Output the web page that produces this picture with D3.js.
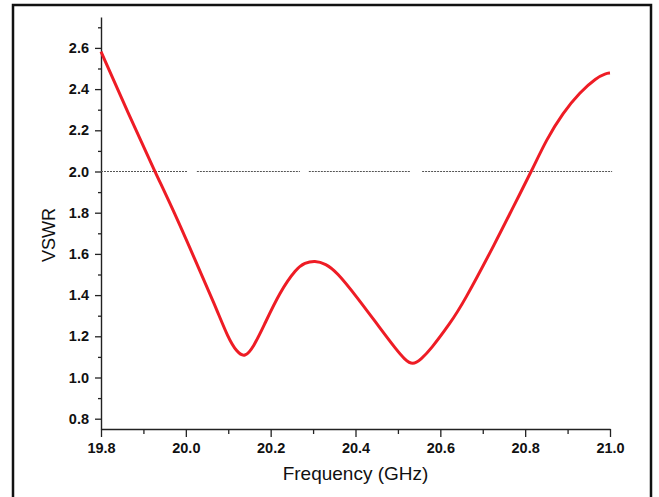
<!DOCTYPE html>
<html>
<head>
<meta charset="utf-8">
<script src="https://cdn.jsdelivr.net/npm/d3@7"></script>
<style>
  body { margin: 0; background: #fff; }
  svg { display: block; }
</style>
</head>
<body>
<div id="chart"></div>
<script>
// VSWR vs frequency
var freq = [19.8, 19.864, 19.927, 19.974, 20.022, 20.069, 20.10, 20.12, 20.139, 20.16, 20.183, 20.222, 20.261, 20.28, 20.304, 20.33, 20.355, 20.403, 20.458, 20.497, 20.515, 20.535, 20.555, 20.576, 20.623, 20.654, 20.733, 20.772, 20.815, 20.85, 20.889, 20.929, 20.968, 20.99, 21.0];
var vswr = [2.582, 2.283, 2.0, 1.797, 1.570, 1.350, 1.19, 1.125, 1.095, 1.15, 1.247, 1.417, 1.530, 1.556, 1.568, 1.552, 1.514, 1.392, 1.239, 1.133, 1.09, 1.058, 1.09, 1.133, 1.263, 1.360, 1.667, 1.829, 2.002, 2.155, 2.285, 2.385, 2.455, 2.476, 2.478];

var xTicks = [19.8, 20.0, 20.2, 20.4, 20.6, 20.8, 21.0];
var yTicks = [0.8, 1.0, 1.2, 1.4, 1.6, 1.8, 2.0, 2.2, 2.4, 2.6];

// dotted reference line at VSWR = 2 (drawn in pieces like the original)
var refLevel = 2.0;
var refPieces = [[19.8, 20.003], [20.026, 20.269], [20.29, 20.529], [20.557, 21.005]];

var w = 659;
var h = 497;
var margin = ({top: 17, right: 49, bottom: 68, left: 101});

var x = d3.scaleLinear()
     .domain([19.8, 21.0])
     .range([margin.left, w - margin.right]);

var y = d3.scaleLinear()
     .domain([0.75, 2.75])
     .range([h - margin.bottom, margin.top]);

var svg = d3.select('#chart')
     .append('svg')
     .attr('width', w)
     .attr('height', h);

// outer frame
svg.append('rect')
     .attr('x', 13)
     .attr('y', 5)
     .attr('width', 638)
     .attr('height', 520)
     .attr('fill', 'none')
     .attr('stroke', '#111')
     .attr('stroke-width', 2.5);

var minorX = d3.range(19.9, 21.0, 0.2);
var minorY = d3.range(0.9, 2.8, 0.2);

// minor ticks
svg.append('g')
     .attr('transform', 'translate(0,' + (h - margin.bottom) + ')')
     .call(d3.axisBottom(x).tickValues(minorX).tickSize(5).tickFormat(''))
     .call(g => g.select('.domain').remove())
     .call(g => g.selectAll('line').attr('stroke', '#222').attr('stroke-width', 1.3));

svg.append('g')
     .attr('transform', 'translate(' + margin.left + ',0)')
     .call(d3.axisLeft(y).tickValues(minorY).tickSize(3).tickFormat(''))
     .call(g => g.select('.domain').remove())
     .call(g => g.selectAll('line').attr('stroke', '#222').attr('stroke-width', 1.3));

// major axes
var xAxis = g => g
     .attr('transform', 'translate(0,' + (h - margin.bottom) + ')')
     .call(d3.axisBottom(x).tickValues(xTicks).tickSize(8).tickPadding(6).tickSizeOuter(0).tickFormat(d3.format('.1f')))
     .call(g => g.select('.domain').attr('stroke', '#222').attr('stroke-width', 1.4))
     .call(g => g.selectAll('line').attr('stroke', '#222').attr('stroke-width', 1.3))
     .call(g => g.selectAll('text')
          .attr('font-family', 'Liberation Sans, Arial, sans-serif')
          .attr('font-weight', 'bold')
          .attr('font-size', 14.5)
          .attr('fill', '#111'));

var yAxis = g => g
     .attr('transform', 'translate(' + margin.left + ',0)')
     .call(d3.axisLeft(y).tickValues(yTicks).tickSize(6).tickPadding(6).tickSizeOuter(0).tickFormat(d3.format('.1f')))
     .call(g => g.select('.domain').attr('stroke', '#222').attr('stroke-width', 1.4))
     .call(g => g.selectAll('line').attr('stroke', '#222').attr('stroke-width', 1.3))
     .call(g => g.selectAll('text')
          .attr('font-family', 'Liberation Sans, Arial, sans-serif')
          .attr('font-weight', 'bold')
          .attr('font-size', 14.5)
          .attr('fill', '#111'));

svg.append('g').call(xAxis);
svg.append('g').call(yAxis);

// reference line
svg.append('g')
     .selectAll('line')
     .data(refPieces)
     .enter()
     .append('line')
     .attr('x1', d => x(d[0]))
     .attr('x2', d => x(d[1]))
     .attr('y1', y(refLevel))
     .attr('y2', y(refLevel))
     .attr('stroke', '#555')
     .attr('stroke-width', 1.2)
     .attr('stroke-dasharray', '2,1');

// curve (basis spline smooths out reading noise)
var line = d3.line()
     .x((d, i) => x(freq[i]))
     .y(d => y(d))
     .curve(d3.curveBasis);

svg.append('path')
     .datum(vswr)
     .attr('d', line)
     .attr('fill', 'none')
     .attr('stroke', '#ee1c25')
     .attr('stroke-width', 3);

// titles
svg.append('text')
     .attr('x', (margin.left + w - margin.right) / 2)
     .attr('y', 480)
     .attr('text-anchor', 'middle')
     .attr('font-family', 'Liberation Sans, Arial, sans-serif')
     .attr('font-size', 19)
     .attr('fill', '#111')
     .text('Frequency (GHz)');

svg.append('text')
     .attr('transform', 'translate(55,' + 235 + ') rotate(-90)')
     .attr('text-anchor', 'middle')
     .attr('font-family', 'Liberation Sans, Arial, sans-serif')
     .attr('font-size', 18)
     .attr('fill', '#111')
     .text('VSWR');
</script>
</body>
</html>
